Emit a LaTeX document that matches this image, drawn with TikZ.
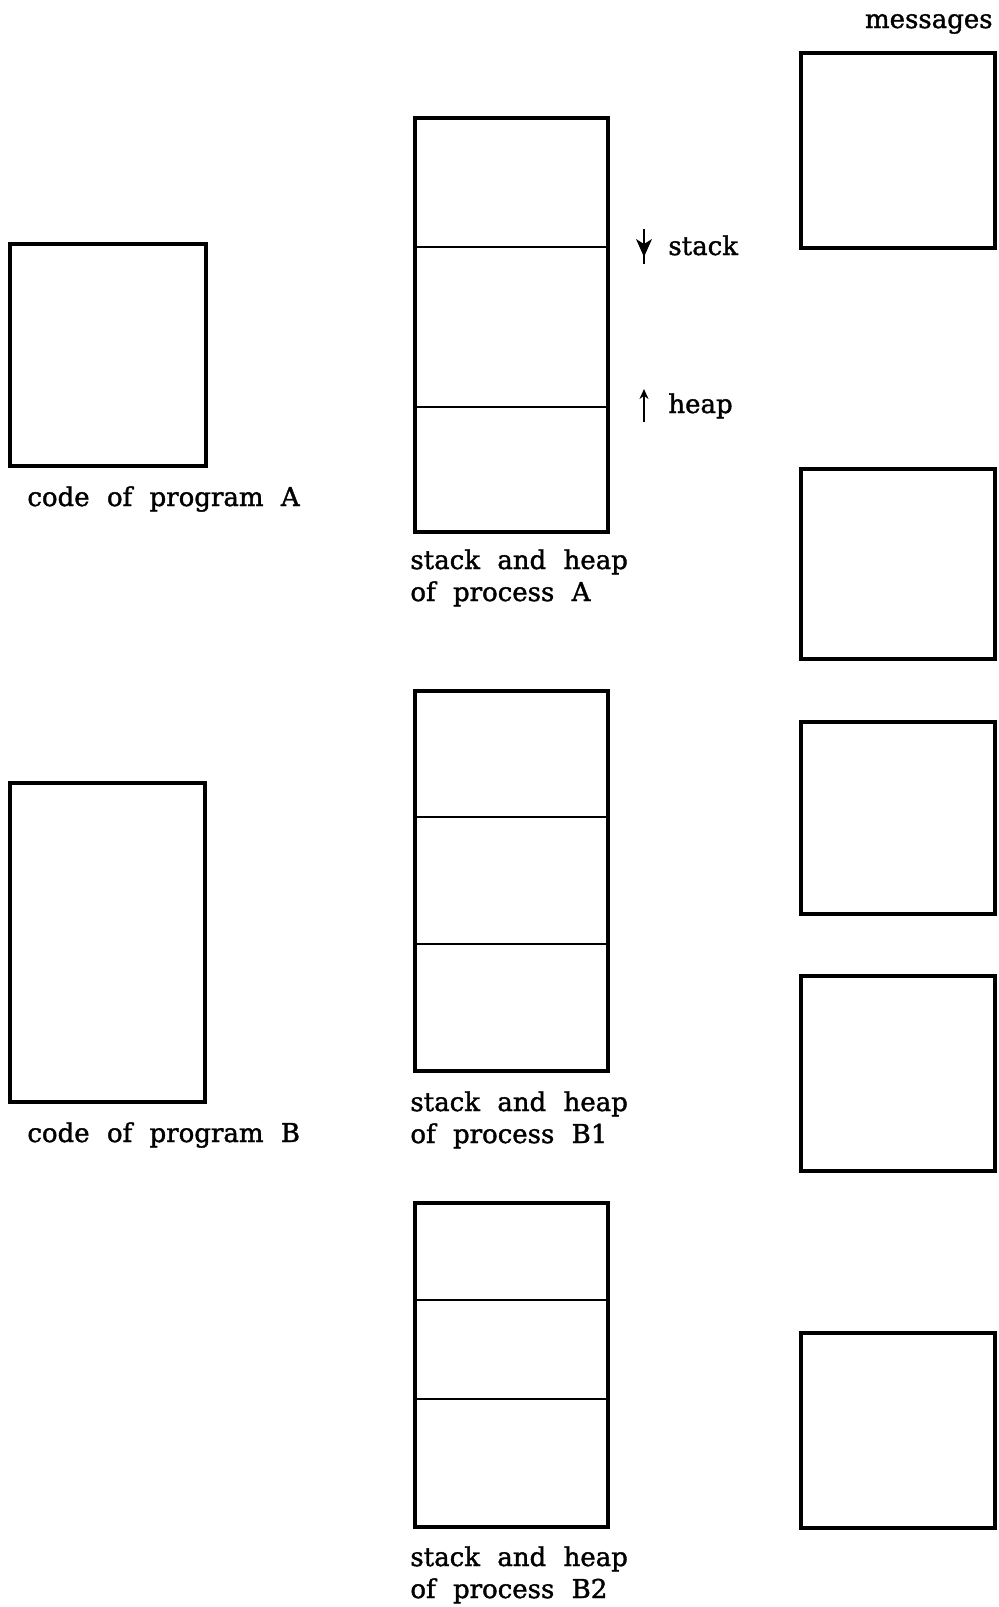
\documentclass[tikz,border=0pt]{standalone}
\usepackage{fontspec}
\setmainfont[WordSpace=2.1, FakeBold=1.4]{DejaVu Serif}
\usetikzlibrary{arrows.meta, positioning}
\tikzset{
    >=Stealth,
    membox/.style={draw, line width=2pt, inner sep=0pt},
    divider/.style={line width=1.3pt},
    growth/.style={line width=1.3pt},
    caption/.style={inner sep=0pt, anchor=base west, align=left,
        font=\fontsize{13}{16}\selectfont}
}
% box between the corners (x1,y1) and (x2,y2), in pixels of the page
\newcommand\memrect[5]{%
    \node[membox, minimum width={(#4-#2)*0.5pt}, minimum height={(#5-#3)*0.5pt}]
        (#1) at ({(#2+#4)/2},{(#3+#5)/2}) {};}

\begin{document}
\begin{tikzpicture}[x=0.5pt, y=-0.5pt]
    \useasboundingbox (0,0) rectangle (998,1607);

    % Code of the programs
    \memrect{codeA}{10}{244}{206}{466}
    \memrect{codeB}{10}{783}{205}{1102}
    \node[caption] (codeAlab) at (27,506) {code of program A};
    \node[caption] (codeBlab) at (27,1142) {code of program B};

    % Stack and heap of the processes (base = last line)
    \memrect{procA}{415}{118}{608}{532}
    \draw[divider] (procA.west |- 0,247) -- (procA.east |- 0,247);
    \draw[divider] (procA.west |- 0,407) -- (procA.east |- 0,407);
    \node[caption] (procAlab) at (410,601) {stack and heap\\of process A};

    \memrect{procBa}{415}{691}{608}{1071}
    \draw[divider] (procBa.west |- 0,817) -- (procBa.east |- 0,817);
    \draw[divider] (procBa.west |- 0,944) -- (procBa.east |- 0,944);
    \node[caption] (procBalab) at (410,1143) {stack and heap\\of process B1};

    \memrect{procBb}{415}{1203}{608}{1527}
    \draw[divider] (procBb.west |- 0,1300) -- (procBb.east |- 0,1300);
    \draw[divider] (procBb.west |- 0,1399) -- (procBb.east |- 0,1399);
    \node[caption] (procBblab) at (410,1598) {stack and heap\\of process B2};

    % Growth of stack and heap
    \coordinate (stacktop) at (644,229);
    \coordinate (stacktip) at (644,257);
    \coordinate (stackend) at (644,264);
    \draw[growth] (stacktop) -- (stackend);
    \fill (stacktip) -- ++(-8,-18) -- ++(8,5) -- ++(8,-5) -- cycle;
    \node[caption] (stacklab) at (668,255) {stack};

    \coordinate (heapbot) at (644,422);
    \coordinate (heaptip) at (644,389);
    \draw[growth, -{Stealth[length=5pt, width=4.5pt]}] (heapbot) -- (heaptip);
    \node[caption] (heaplab) at (668,413) {heap};

    % Messages
    \node[caption, anchor=base east] (msglab) at (993,28) {messages};
    \memrect{msgA}{801}{53}{995}{248}
    \memrect{msgB}{801}{469}{995}{659}
    \memrect{msgC}{801}{722}{995}{914}
    \memrect{msgD}{801}{976}{995}{1171}
    \memrect{msgE}{801}{1333}{995}{1528}
\end{tikzpicture}
\end{document}
